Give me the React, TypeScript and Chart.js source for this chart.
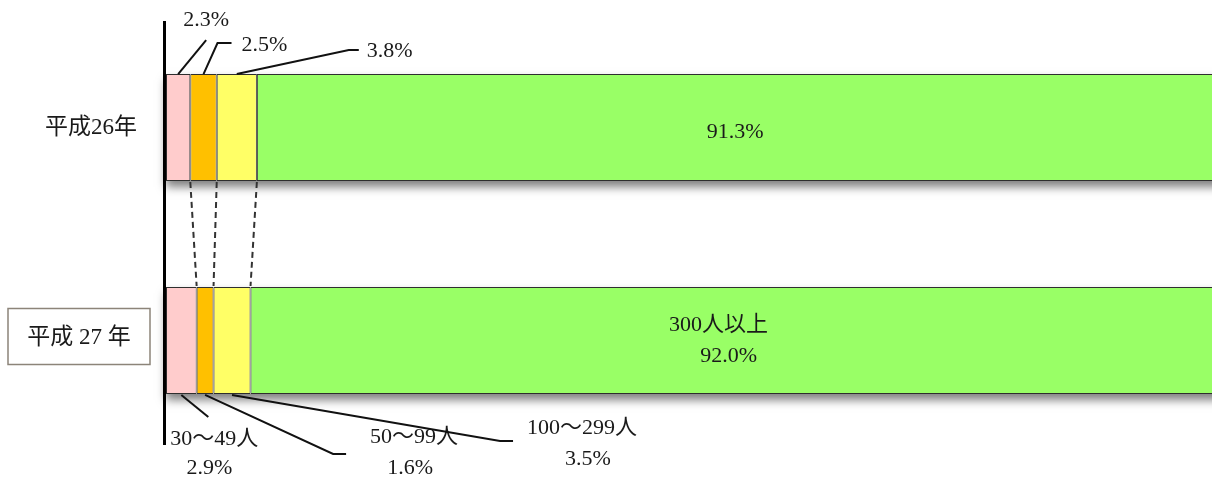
import React, { useEffect, useRef } from 'react';
import { Chart, registerables } from 'chart.js';

Chart.register(...registerables);

const categories = ['平成26年', '平成27年'];
const seriesNames = ['30～49人', '50～99人', '100～299人', '300人以上'];
const valuesH26 = [2.3, 2.5, 3.8, 91.3];
const valuesH27 = [2.9, 1.6, 3.5, 92.0];
const labelsH26 = ['2.3%', '2.5%', '3.8%', '91.3%'];
const labelsH27 = ['2.9%', '1.6%', '3.5%', '92.0%'];
const colors = ['#FFCCCC', '#FFC000', '#FFFF66', '#99FF66'];

const FONT = "'Liberation Serif', 'Noto Sans CJK JP', serif";
const FS = 22;

function segOf(chart: any, ds: number, row: number) {
  const el = chart.getDatasetMeta(ds).data[row];
  const p = el.getProps(['x', 'y', 'base', 'height'], true);
  const x0 = Math.min(p.base, p.x);
  const x1 = Math.max(p.base, p.x);
  return { x0, x1, mid: (x0 + x1) / 2, top: p.y - p.height / 2, bottom: p.y + p.height / 2, cy: p.y };
}

const annotate = {
  id: 'annotate',
  beforeDatasetsDraw(chart: any) {
    const ctx = chart.ctx;
    const { left, right } = chart.chartArea;
    const meta = chart.getDatasetMeta(0);
    meta.data.forEach((el: any) => {
      const p = el.getProps(['y', 'height'], true);
      ctx.save();
      ctx.shadowColor = 'rgba(0,0,0,0.5)';
      ctx.shadowBlur = 9;
      ctx.shadowOffsetY = 6;
      ctx.fillStyle = '#ffffff';
      ctx.fillRect(left, p.y - p.height / 2, right - left + 30, p.height);
      ctx.restore();
    });
  },
  afterDatasetsDraw(chart: any) {
    const ctx = chart.ctx;
    const { left, top, bottom } = chart.chartArea;
    ctx.save();

    // axis line
    ctx.strokeStyle = '#000';
    ctx.lineWidth = 3;
    ctx.beginPath();
    ctx.moveTo(left - 1.5, top);
    ctx.lineTo(left - 1.5, bottom - 2);
    ctx.stroke();

    // dashed connectors
    ctx.setLineDash([6, 4]);
    ctx.lineWidth = 2;
    ctx.strokeStyle = '#333';
    for (let i = 0; i < 3; i++) {
      const a = segOf(chart, i, 0);
      const b = segOf(chart, i, 1);
      ctx.beginPath();
      ctx.moveTo(a.x1, a.bottom + 1);
      ctx.lineTo(b.x1, b.top - 1);
      ctx.stroke();
    }
    ctx.setLineDash([]);

    const line = (pts: number[][]) => {
      ctx.beginPath();
      ctx.moveTo(pts[0][0], pts[0][1]);
      for (let k = 1; k < pts.length; k++) ctx.lineTo(pts[k][0], pts[k][1]);
      ctx.stroke();
    };
    const text = (t: string, x: number, y: number, align: CanvasTextAlign = 'center', size = FS) => {
      ctx.font = `${size}px ${FONT}`;
      ctx.textAlign = align;
      ctx.textBaseline = 'middle';
      ctx.fillStyle = '#1a1a1a';
      ctx.fillText(t, x, y);
    };

    ctx.strokeStyle = '#111';
    ctx.lineWidth = 2;

    // top row leaders
    let s = segOf(chart, 0, 0);
    line([[s.mid, s.top], [s.mid + 28, s.top - 34]]);
    text(labelsH26[0], s.mid + 28, s.top - 54);

    s = segOf(chart, 1, 0);
    line([[s.mid, s.top], [s.mid + 14, s.top - 31], [s.mid + 28, s.top - 31]]);
    text(labelsH26[1], s.mid + 38, s.top - 29, 'left');

    s = segOf(chart, 2, 0);
    line([[s.mid, s.top], [s.mid + 112, s.top - 24], [s.mid + 122, s.top - 24]]);
    text(labelsH26[2], s.mid + 130, s.top - 23, 'left');

    // bottom row leaders
    s = segOf(chart, 0, 1);
    line([[s.mid, s.bottom + 1], [s.mid + 27, s.bottom + 23]]);
    text(seriesNames[0], s.mid + 33, s.bottom + 45);
    text(labelsH27[0], s.mid + 28, s.bottom + 74);

    s = segOf(chart, 1, 1);
    line([[s.mid, s.bottom + 1], [s.mid + 128, s.bottom + 60], [s.mid + 141, s.bottom + 60]]);
    text(seriesNames[1], s.mid + 209, s.bottom + 43);
    text(labelsH27[1], s.mid + 205, s.bottom + 74);

    s = segOf(chart, 2, 1);
    line([[s.mid, s.bottom + 1], [s.mid + 268, s.bottom + 47], [s.mid + 281, s.bottom + 47]]);
    text(seriesNames[2], s.mid + 350, s.bottom + 34);
    text(labelsH27[2], s.mid + 356, s.bottom + 65);

    // center labels in the large segments
    s = segOf(chart, 3, 0);
    text(labelsH26[3], s.mid - 4, s.cy + 5);
    s = segOf(chart, 3, 1);
    text(seriesNames[3], s.mid - 18, s.cy - 15);
    text(labelsH27[3], s.mid - 8, s.cy + 16);

    // category labels
    const r0 = segOf(chart, 0, 0);
    text(categories[0], left - 75, r0.cy, 'center', 23);
    const r1 = segOf(chart, 0, 1);
    ctx.strokeStyle = '#8c8479';
    ctx.lineWidth = 1.5;
    ctx.strokeRect(8, r1.cy - 32, 142, 56);
    text(categories[1].replace('27', ' 27 '), 79, r1.cy - 3, 'center', 23);

    ctx.restore();
  },
};

export default function App() {
  const ref = useRef<HTMLCanvasElement | null>(null);
  useEffect(() => {
    if (!ref.current) return;
    const chart = new Chart(ref.current, {
      type: 'bar',
      data: {
        labels: categories,
        datasets: seriesNames.map((name, i) => ({
          label: name,
          data: [valuesH26[i], valuesH27[i]],
          backgroundColor: colors[i],
          borderColor: '#2e2e2e',
          borderWidth: 1,
          borderSkipped: false,
          categoryPercentage: 1,
          barPercentage: 0.502,
        })),
      },
      options: {
        indexAxis: 'y',
        responsive: false,
        animation: false,
        layout: { padding: { left: 166, right: 0, top: 21, bottom: 32 } },
        scales: {
          x: { display: false, stacked: true, min: 0, max: 99 },
          y: { display: false, stacked: true },
        },
        plugins: { legend: { display: false }, tooltip: { enabled: false } },
      },
      plugins: [annotate],
    });
    return () => chart.destroy();
  }, []);
  return (
    <div style={{ position: 'absolute', left: 0, top: 0, width: 1212, height: 479, background: '#fff' }}>
      <canvas ref={ref} width={1212} height={479} style={{ display: 'block' }} />
    </div>
  );
}
